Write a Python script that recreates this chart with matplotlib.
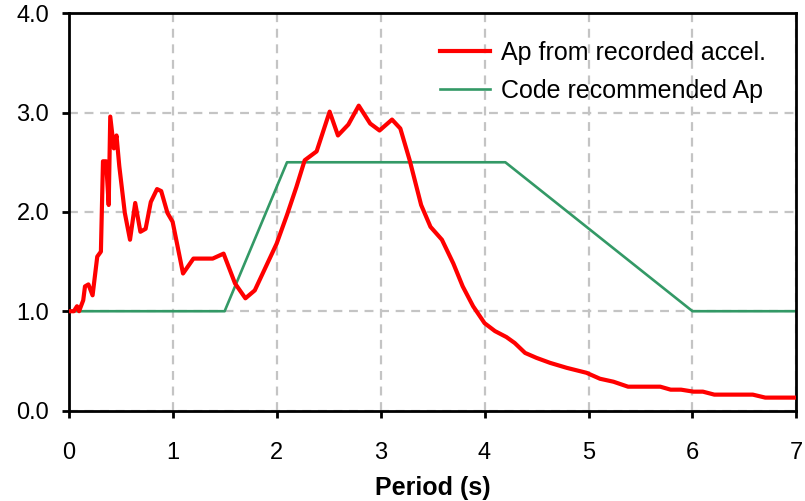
import matplotlib
matplotlib.use("Agg")
import matplotlib.pyplot as plt

plt.rcParams['font.family'] = ['Liberation Sans', 'DejaVu Sans']

# Amplification factor Ap from the recorded accelerations
period_rec = [0.00, 0.05, 0.08, 0.10, 0.14, 0.157, 0.19, 0.23, 0.275, 0.31, 0.33, 0.36,
              0.385, 0.40, 0.435, 0.46, 0.487, 0.54, 0.59, 0.64, 0.69, 0.74, 0.79,
              0.85, 0.89, 0.95, 1.00, 1.10, 1.20, 1.385, 1.49, 1.60, 1.70, 1.79,
              2.00, 2.10, 2.19, 2.27, 2.385, 2.51, 2.59, 2.69, 2.79, 2.90, 2.99,
              3.11, 3.19, 3.28, 3.39, 3.48, 3.59, 3.70, 3.79, 3.89, 4.00, 4.10,
              4.21, 4.29, 4.39, 4.50, 4.63, 4.79, 4.98, 5.11, 5.24, 5.38, 5.69,
              5.79, 5.89, 6.01, 6.10, 6.21, 6.58, 6.70, 7.00]
ap_rec = [1.00, 1.00, 1.05, 1.00, 1.11, 1.25, 1.27, 1.16, 1.55, 1.60, 2.51, 2.51,
          2.07, 2.96, 2.64, 2.77, 2.46, 1.99, 1.72, 2.09, 1.80, 1.83, 2.10,
          2.23, 2.21, 1.99, 1.90, 1.38, 1.53, 1.53, 1.58, 1.28, 1.13, 1.21,
          1.68, 1.97, 2.25, 2.52, 2.61, 3.01, 2.77, 2.88, 3.07, 2.89, 2.82,
          2.93, 2.84, 2.52, 2.07, 1.85, 1.72, 1.48, 1.25, 1.05, 0.88, 0.80,
          0.74, 0.68, 0.58, 0.53, 0.48, 0.43, 0.38, 0.32, 0.29, 0.24, 0.24,
          0.21, 0.21, 0.19, 0.19, 0.16, 0.16, 0.13, 0.13]

# Code recommended Ap
period_code = [0.0, 1.5, 2.1, 4.2, 6.0, 7.0]
ap_code = [1.0, 1.0, 2.5, 2.5, 1.0, 1.0]

x_ticks = [0, 1, 2, 3, 4, 5, 6, 7]
y_ticks = [0.0, 1.0, 2.0, 3.0, 4.0]
y_tick_labels = ["0.0", "1.0", "2.0", "3.0", "4.0"]

fig = plt.figure(figsize=(8.05, 5.01), dpi=100)
ax = fig.add_axes([0.0853, 0.1806, 0.9041, 0.7928])

ax.plot(period_rec, ap_rec, color="#FF0000", lw=3.0, solid_joinstyle="round",
        label="Ap from recorded accel.", zorder=3)
ax.plot(period_code, ap_code, color="#339966", lw=1.9,
        label="Code recommended Ap", zorder=2)

ax.set_xlim(0, 7)
ax.set_ylim(0, 4)
ax.set_xticks(x_ticks)
ax.set_yticks(y_ticks)
ax.set_yticklabels(y_tick_labels)

ax.grid(True, color="#C4C4C4", linestyle=(0, (4, 3)), linewidth=1.6)
ax.set_axisbelow(True)

for sp in ax.spines.values():
    sp.set_color("black")
    sp.set_linewidth(2.0)

ax.tick_params(axis="x", direction="out", length=5, width=2, pad=18, labelsize=17)
ax.tick_params(axis="y", direction="out", length=5, width=2, pad=9, labelsize=17)

ax.set_xlabel("Period (s)", fontsize=18, fontweight="bold", labelpad=8)

ax.legend(loc="upper left", bbox_to_anchor=(0.510, 0.931), frameon=False,
          fontsize=18, handlelength=2.0, handletextpad=0.45, labelspacing=0.56,
          borderaxespad=0, borderpad=0)

fig.savefig("out.png", dpi=100)
